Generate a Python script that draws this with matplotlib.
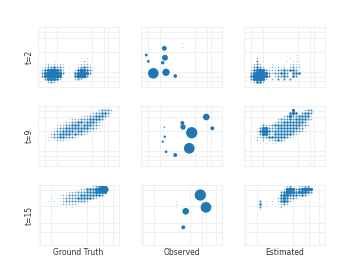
import numpy as np
import matplotlib
matplotlib.use("Agg")
import matplotlib.pyplot as plt

# row / column labels
row_labels = ["t=2", "t=9", "t=15"]
col_labels = ["Ground Truth", "Observed", "Estimated"]

# dense panels read off the picture as character maps:
# each char is one 3px lattice cell, digit = weight class (blank = empty)
gt_t2 = [
    "", "", "", "", "", "", "", "", "", "",
    "              1 1",
    "     1        121",
    "  1212121    12221",
    " 12334332 1  234321",
    " 24566542   2465431",
    " 35666653   456653",
    " 3566665    46663",
    "  355542    232",
    "   232",
]
est_t2 = [
    "", "", "", "", "", "", "", "", "",
    "                 1",
    "    2          1 1",
    "    3 1       1 111",
    "   232   1 1 1 1211",
    "  13432 121212 2322",
    "  24565322233434431",
    "  3566653233443 444",
    "  4666653 23343 43",
    "  356652 2 3 3 3",
    "   2442",
]
gt_t9 = [
    "",
    "                    23332",
    "                 12334431",
    "              1223344432",
    "          1222333444431",
    "        12233443444321",
    "      1223344434443321",
    "     1233444444443321",
    "    123344443443321",
    "    2334444343321",
    "   12334433321",
    "   1 122211",
]
est_t9 = [
    "",
    "                5   233",
    "               454 3443",
    "             2353344441",
    "           233343444432",
    "          233444444431",
    "     13223444444444332",
    "    13553334444444331",
    "    24664344444443321",
    "    135532444444321",
    "   12233444444321",
    "    2 2 223432",
    "     1 1 11",
]
gt_t15 = [
    "                  23455",
    "              224445677",
    "         12223334445555",
    "       122333344444443",
    "    1 11233334444432",
    "   1 1 12333333321",
    "      11222221",
    "         1 1",
]
est_t15 = [
    "              23  2233",
    "             2565345665",
    "            34665455543",
    "            4554443431",
    "           24543321",
    "     3 1 1 24542",
    "     4 1 1 1232",
    "     3      2",
    "     1",
]

# observed points: x, y (axes fraction) and marker area
obs_t2_x = [0.152, 0.309, 0.423, 0.288, 0.296, 0.268, 0.065, 0.090, 0.515, 0.515]
obs_t2_y = [0.228, 0.245, 0.183, 0.645, 0.488, 0.405, 0.533, 0.428, 0.722, 0.662]
obs_t2_s = [58, 28, 7, 12, 18, 6, 4, 4, 0.6, 0.6]

obs_t9_x = [0.806, 0.880, 0.626, 0.596, 0.510, 0.519, 0.423, 0.309, 0.268, 0.293, 0.288, 0.370]
obs_t9_y = [0.817, 0.628, 0.555, 0.295, 0.717, 0.650, 0.183, 0.238, 0.405, 0.488, 0.645, 0.850]
obs_t9_s = [23, 8, 66, 59, 8, 15, 8, 3.7, 2.5, 3, 1, 0.5]

obs_t15_x = [0.732, 0.802, 0.552, 0.522, 0.441, 0.441]
obs_t15_y = [0.833, 0.628, 0.562, 0.295, 0.722, 0.667]
obs_t15_s = [66, 59, 23, 8, 0.7, 0.7]

# weight class -> (area, alpha)
size_of = {"1": 0.6, "2": 1.2, "3": 2.2, "4": 3.5, "5": 5.5, "6": 8, "7": 20}
alpha_of = {"1": 0.35, "2": 0.6, "3": 0.85, "4": 1, "5": 1, "6": 1, "7": 1}

# faint grid positions (axes fraction) per row
grid_x = [[0.09, 0.24, 0.665, 0.81, 0.865],
          [0.09, 0.24, 0.665, 0.81, 0.865],
          [0.02, 0.16, 0.6, 0.75, 0.8, 0.92]]
grid_y = [[0.1, 0.167, 0.25, 0.583, 0.817, 0.917],
          [0.1, 0.167, 0.25, 0.583, 0.817, 0.917],
          [0.222, 0.37, 0.645, 0.92]]

BLUE = "#1f77b4"


def map_points(rows):
    xs, ys, ss, cs = [], [], [], []
    for r, line in enumerate(rows):
        for c, ch in enumerate(line):
            if ch == " ":
                continue
            xs.append((c * 3 + 1.5) / 81)
            ys.append(1 - (r * 3 + 1.5) / 60)
            ss.append(size_of[ch])
            cs.append(matplotlib.colors.to_rgba(BLUE, alpha_of[ch]))
    return xs, ys, ss, cs


fig = plt.figure(figsize=(3.6, 2.71), dpi=100)
W, H = 360, 271
lefts = [38, 141, 244]
tops = [27, 106, 185]

panels = [
    [gt_t2, (obs_t2_x, obs_t2_y, obs_t2_s), est_t2],
    [gt_t9, (obs_t9_x, obs_t9_y, obs_t9_s), est_t9],
    [gt_t15, (obs_t15_x, obs_t15_y, obs_t15_s), est_t15],
]

for i in range(3):
    for j in range(3):
        ax = fig.add_axes([lefts[j] / W, (H - tops[i] - 60) / H, 81 / W, 60 / H])
        ax.set_xlim(0, 1)
        ax.set_ylim(0, 1)
        ax.set_xticks(grid_x[i])
        ax.set_yticks(grid_y[i])
        ax.tick_params(length=0, labelbottom=False, labelleft=False)
        ax.grid(True, color="#f0f0f0", lw=0.8)
        ax.set_axisbelow(True)
        for sp in ax.spines.values():
            sp.set_color("#f0f0f0")
            sp.set_linewidth(0.8)
        p = panels[i][j]
        if j == 1:
            ox, oy, osz = p
            cols = [matplotlib.colors.to_rgba(BLUE, 0.4 if s < 1 else 1) for s in osz]
            ax.scatter(ox, oy, s=osz, c=cols, linewidths=0)
        else:
            xs, ys, ss, cs = map_points(p)
            ax.scatter(xs, ys, s=ss, c=cs, linewidths=0)
        if j == 0:
            ax.set_ylabel(row_labels[i], fontsize=5.5, color="#333333", labelpad=3)
        if i == 2:
            ax.set_xlabel(col_labels[j], fontsize=5.5, color="#333333", labelpad=2)

fig.savefig("out.png", dpi=100)
